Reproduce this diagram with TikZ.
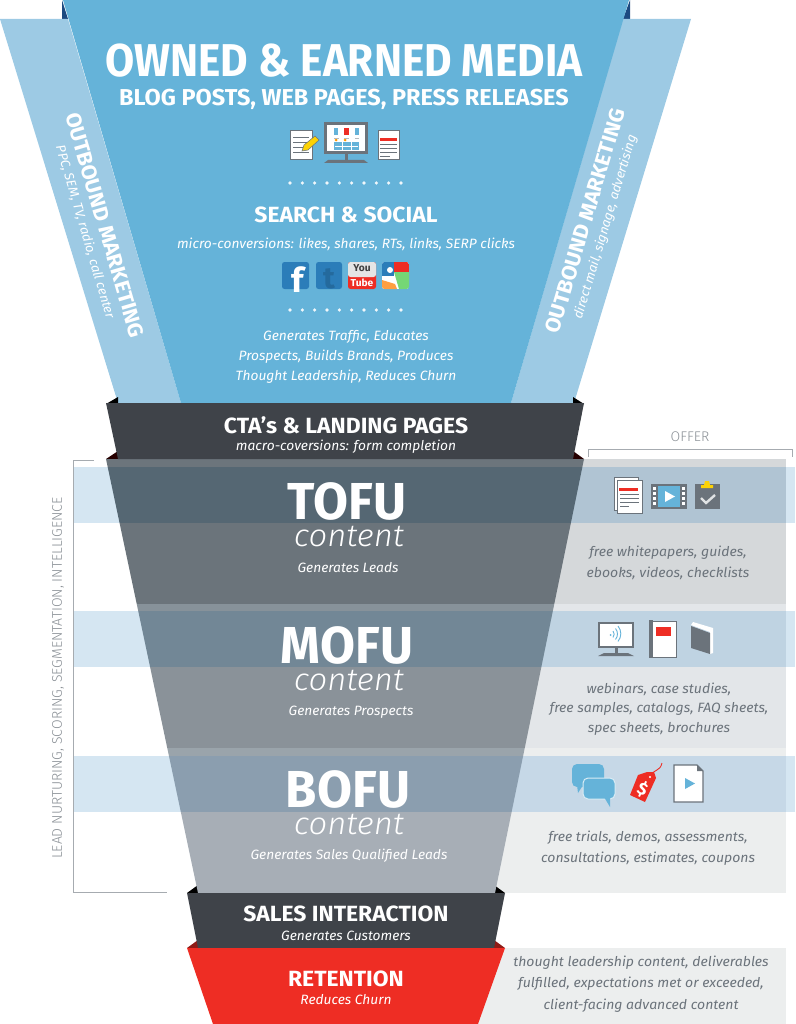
\documentclass[tikz,border=0pt]{standalone}
\usepackage{fontspec}
\setmainfont[FakeStretch=1.02]{Fira Sans}
\newfontfamily\narrowfont[FakeStretch=0.92]{Fira Sans}
\newfontfamily\stagefont[FakeStretch=0.975]{Fira Sans}
\newfontfamily\widefont[FakeStretch=1.04]{Fira Sans}
\newfontfamily\lightfont[FakeStretch=1.06]{Fira Sans Light}
\newfontfamily\capfont[FakeStretch=1.0]{Fira Sans Light}
\usepackage{tikz}
\definecolor{mainblue}{HTML}{65B3D9}
\definecolor{wingblue}{HTML}{9DCAE4}
\definecolor{navy}{HTML}{1C4A80}
\definecolor{slate}{HTML}{3F4349}
\definecolor{iconink}{HTML}{6B737B}
\definecolor{retred}{HTML}{EE2D24}
\definecolor{fbblue}{HTML}{2B7DB9}
\definecolor{bandblue}{HTML}{D5E6F2}
\newcommand{\fsz}[1]{\fontsize{#1}{#1}\selectfont}
\tikzset{
    lab/.style={inner sep=0pt, text=white, align=center},
    bighead/.style={lab, font=\narrowfont\fsz{46}\bfseries},
    subhead/.style={lab, font=\fsz{23}\bfseries},
    stagehead/.style={lab, font=\stagefont\fsz{52}\bfseries},
    stagesub/.style={lab, font=\lightfont\fsz{31}\itshape},
    blackhead/.style={lab, font=\widefont\fsz{22}\bfseries},
    note/.style={lab, yshift=-1pt, font=\fsz{13.5}\itshape},
    offernote/.style={note, text=iconink, font=\widefont\fsz{13.5}\itshape},
    sidehead/.style={lab, font=\widefont\fsz{21}\bfseries},
    sidenote/.style={lab, font=\fsz{13}\itshape},
    greycap/.style={lab, text=iconink!80, font=\capfont\fsz{14}},
    sheet/.style={fill=white, draw=iconink, line width=1pt},
    inkline/.style={draw=iconink, line width=1pt},
    bracket/.style={draw=iconink!60, line width=0.8pt}
}
\begin{document}
\begin{tikzpicture}[x=1pt,y=-1pt]
\useasboundingbox (0,0) rectangle (795,1024);
% wings and top of the funnel
\fill[navy] (62,0)--(68,19)--(62,19)--cycle;
\fill[navy] (630,0)--(623,19)--(630,19)--cycle;
\fill[wingblue] (0,19)--(68,19)--(181,403)--(118,403)--cycle;
\fill[wingblue] (623,19)--(691,19)--(574,403)--(511,403)--cycle;
\fill[mainblue] (63,0)--(629,0)--(511,403)--(181,403)--cycle;
% offer panels and the bands
\foreach \a/\b/\col in {459/604/D5D8DA,604/748/E3E6E9,748/893/ECEEEE,948/1024/ECEEEE}{
    \definecolor{panelcol}{HTML}{\col}
    \fill[panelcol] (300,\a) rectangle (786,\b);
}
\foreach \a/\col in {467/B0C4D3,611/BFD3E2,756/C6D8E7}{
    \definecolor{panelcol}{HTML}{\col}
    \fill[bandblue] (73,\a) rectangle (795,\a+56);
    \fill[panelcol] (300,\a) rectangle (786,\a+56);
}
% dark corners
\fill[black] (106,404)--(118,397)--(118,404)--cycle;
\fill[black] (584,404)--(573,397)--(573,404)--cycle;
\fill[black!85!red] (106,459)--(118,451)--(118,459)--cycle;
\fill[black!85!red] (584,459)--(573,451)--(573,459)--cycle;
\fill[black] (187,893)--(198,885)--(198,893)--cycle;
\fill[black] (505,893)--(494,885)--(494,893)--cycle;
\fill[retred!60!black] (187,948)--(198,940)--(198,948)--cycle;
\fill[retred!60!black] (505,948)--(494,940)--(494,948)--cycle;
% funnel
\begin{scope}
\clip (106,459)--(584,459)--(495,893)--(198,893)--cycle;
\foreach \a/\b/\col in {459/467/6C757C,467/523/556773,523/604/6B747B,604/611/87929A,611/667/728796,
    667/748/8A9299,748/756/9AA4AB,756/812/8B9EAF,812/893/A7AEB6}{
    \definecolor{panelcol}{HTML}{\col}
    \fill[panelcol] (100,\a) rectangle (600,\b);
}
\end{scope}
\fill[slate] (106,403)--(584,403)--(573,459)--(118,459)--cycle;
\fill[slate] (187,893)--(505,893)--(494,948)--(198,948)--cycle;
\fill[retred] (187,948)--(505,948)--(478,1024)--(213,1024)--cycle;
% brackets
\draw[bracket] (94,460)--(73,460)--(73,892)--(167,892);
\draw[bracket] (588,457)--(588,449)--(792,449)--(792,457);
% texts
\node[bighead] (ownedmedia) at (344,61) {OWNED \& EARNED MEDIA};
\node[subhead] (blogposts) at (344,99) {BLOG POSTS, WEB PAGES, PRESS RELEASES};
\node[blackhead] (searchsocial) at (346,215) {SEARCH \& SOCIAL};
\node[note] (microconv) at (346,243) {micro-conversions: likes, shares, RTs, links, SERP clicks};
\node[note] (genline1) at (346,336) {Generates Traffic, Educates};
\node[note] (genline2) at (346,356) {Prospects, Builds Brands, Produces};
\node[note] (genline3) at (346,376) {Thought Leadership, Reduces Churn};
\node[blackhead] (ctahead) at (346,425) {CTA’s \& LANDING PAGES};
\node[note] (ctanote) at (346,446) {macro-coversions: form completion};
\node[stagehead] (tofu) at (347,501) {TOFU};
\node[stagesub] (tofucontent) at (349,537) {content};
\node[note] (tofunote) at (348,567) {Generates Leads};
\node[stagehead] (mofu) at (347,645) {MOFU};
\node[stagesub] (mofucontent) at (349,681) {content};
\node[note] (mofunote) at (351,711) {Generates Prospects};
\node[stagehead] (bofu) at (348,789) {BOFU};
\node[stagesub] (bofucontent) at (349,825) {content};
\node[note] (bofunote) at (349,855) {Generates Sales Qualified Leads};
\node[blackhead] (salesint) at (346,914) {SALES INTERACTION};
\node[note] (salesnote) at (346,935) {Generates Customers};
\node[blackhead] (retention) at (346,979) {RETENTION};
\node[note] (retnote) at (346,999) {Reduces Churn};
\node[sidehead, rotate=-73.6] (outleft) at (105,225) {OUTBOUND MARKETING};
\node[sidenote, rotate=-73.6] (outleftnote) at (85,232) {PPC, SEM, TV, radio, call center};
\node[sidehead, rotate=73.4] (outright) at (585,221) {OUTBOUND MARKETING};
\node[sidenote, rotate=73.4] (outrightnote) at (605.5,227) {direct mail, signage, advertising};
\node[greycap] (offer) at (690,437) {OFFER};
\node[greycap, rotate=90] (leadnurt) at (58,678) {LEAD NURTURING, SCORING, SEGMENTATION, INTELLIGENCE};
\node[offernote] (tofuoffer1) at (668,552) {free whitepapers, guides,};
\node[offernote] (tofuoffer2) at (668,572) {ebooks, videos, checklists};
\node[offernote] (mofuoffer1) at (659,688) {webinars, case studies,};
\node[offernote] (mofuoffer2) at (659,708) {free samples, catalogs, FAQ sheets,};
\node[offernote] (mofuoffer3) at (659,728) {spec sheets, brochures};
\node[offernote] (bofuoffer1) at (648,837) {free trials, demos, assessments,};
\node[offernote] (bofuoffer2) at (648,858) {consultations, estimates, coupons};
\node[offernote] (retoffer1) at (641,962) {thought leadership content, deliverables};
\node[offernote] (retoffer2) at (641,983) {fulfilled, expectations met or exceeded,};
\node[offernote] (retoffer3) at (641,1005) {client-facing advanced content};
% dots
\foreach \i in {0,...,9}{
    \fill[white!90!mainblue] (290+12.33*\i,183) circle (1.8);
    \fill[white!90!mainblue] (290+12.33*\i,310) circle (1.8);
}
% icons: note with pencil, monitor, page
\draw[sheet] (290,131) rectangle (312,160);
\foreach \y in {137,142,147,152} \draw[inkline,line width=.7pt] (293,\y)--(309,\y);
\fill[yellow!70!orange,draw=iconink,line width=.5pt] (302,151)--(304,145)--(315,136)--(319,140)--(308,150)--cycle;
\fill[iconink] (324,122) rectangle (368,154);
\fill[white] (327,125) rectangle (365,151);
\fill[iconink] (345,154) rectangle (348,161);
\fill[iconink] (324,163)--(328,160)--(364,160)--(368,163)--cycle;
\fill[mainblue] (334,128) rectangle (338,135);
\fill[retred] (344,128) rectangle (349,135);
\fill[mainblue] (355,128) rectangle (359,135);
\fill[mainblue] (334,142) rectangle (359,150);
\draw[white,line width=.5pt] (342,142)--(342,150) (351,142)--(351,150) (335,146)--(358,146);
\fill[orange!80!yellow] (336,140) circle (1.5) (345,140) circle (1.5);
\draw[iconink!50,line width=.6pt] (334,138)--(339,138) (344,138)--(349,138) (355,138)--(359,138);
\draw[sheet] (378,131) rectangle (399,160);
\fill[retred] (380,138) rectangle (397,141);
\foreach \y in {144,148,152} \draw[inkline,line width=.7pt] (380,\y)--(397,\y);
\draw[inkline,line width=.7pt] (380,156)--(390,156);
% social buttons
\fill[fbblue,rounded corners=2.5pt] (282,262) rectangle (309,289);
\node[lab, font=\fsz{34}\bfseries, anchor=south] (fbmark) at (298,293) {f};
\fill[fbblue,rounded corners=2.5pt] (316,262) rectangle (342,289);
\node[lab, text=fbblue!85!black, font=\fsz{30}\bfseries, anchor=south] (twmark) at (329,289) {t};
\fill[retred,rounded corners=2.5pt] (348,262) rectangle (376,289);
\fill[gray!20,rounded corners=2.5pt] (348,262) rectangle (376,277);
\fill[gray!20] (348,272) rectangle (376,275);
\node[lab, text=black!75, font=\fsz{10}\bfseries] (ytyou) at (362,268.5) {You};
\node[lab, font=\fsz{10}\bfseries] (yttube) at (362,282.5) {Tube};
\begin{scope}
\clip[rounded corners=2.5pt] (382,262) rectangle (409,289);
\fill[white] (382,262) rectangle (409,289);
\fill[fbblue] (382,262) rectangle (394,276);
\fill[retred] (394,262) rectangle (409,272);
\fill[green!55!gray!70!white] (394,272)--(409,272)--(409,289)--(399,289)--cycle;
\fill[orange!75!white] (382,280)--(395,284)--(397,289)--(382,289)--cycle;
\fill[white] (390,270) circle (3);
\end{scope}
% offer icons, top row
\draw[sheet,fill=white] (614,477) rectangle (638,510);
\draw[sheet] (617,480) rectangle (642,513);
\fill[retred] (619,488) rectangle (638,491);
\foreach \y in {494,498,502} \draw[inkline,line width=.7pt] (620,\y)--(639,\y);
\draw[inkline,line width=.7pt] (620,506)--(629,506);
\fill[iconink] (651,484) rectangle (687,509);
\fill[mainblue] (658,486) rectangle (680,507);
\fill[white] (665,491)--(675,496.5)--(665,502)--cycle;
\foreach \y in {486,491,496,501} {
    \fill[white] (653,\y+.5) rectangle (656,\y+3.5);
    \fill[white] (682,\y+.5) rectangle (685,\y+3.5);
}
\fill[iconink] (695,484) rectangle (720,509);
\fill[yellow!70!orange] (701,488)--(701,485)--(704,485)--(705,481)--(709,481)--(710,485)--(713,485)--(713,488)--cycle;
\draw[white!80!iconink,line width=2.4pt] (701,498)--(706,503)--(715,495);
% offer icons, middle row
\fill[iconink] (598,622) rectangle (634,648);
\fill[white] (600,624) rectangle (632,646);
\fill[iconink] (614.5,648) rectangle (617.5,654);
\fill[iconink] (598,656)--(604,653)--(628,653)--(634,656)--cycle;
\fill[mainblue] (610.5,635) circle (1);
\draw[mainblue,line width=.9pt] (613,631) arc (-40:40:5) (615.5,628.5) arc (-40:40:8.5) (618,626) arc (-40:40:12);
\fill[iconink] (649,620) rectangle (653,658);
\draw[sheet] (652,621) rectangle (676,657);
\fill[retred] (656,627) rectangle (671,636);
\fill[white] (691,625)--(693,622)--(713,628)--(713,653)--(710,654)--(710,632)--cycle;
\fill[iconink] (691,626)--(710,633)--(710,654)--(691,648)--cycle;
% offer icons, bottom row
\fill[mainblue,rounded corners=5pt] (572,764) rectangle (604,787);
\fill[mainblue] (577,785)--(583,785)--(578,793)--cycle;
\fill[mainblue,draw=white!75!mainblue,line width=1pt,rounded corners=5pt] (583,778) rectangle (615,799);
\fill[mainblue] (604,797)--(610,797)--(610,807)--cycle;
\fill[retred] (630,795)--(645,802)--(656,778)--(654,772)--(647,772)--(638,775)--cycle;
\draw[retred,line width=.9pt] (651,776) .. controls (653,769) and (660,772) .. (662,763);
\fill[white] (650,777) circle (1.2);
\node[lab, font=\fsz{17}\bfseries, rotate=-25] (tagdollar) at (642.5,789) {\$};
\draw[sheet,line width=1.2pt] (674,765)--(697,765)--(703,771)--(703,802)--(674,802)--cycle;
\fill[iconink] (697,765)--(703,771)--(697,771)--cycle;
\fill[mainblue] (685,778)--(695,783.5)--(685,789)--cycle;
\end{tikzpicture}
\end{document}
